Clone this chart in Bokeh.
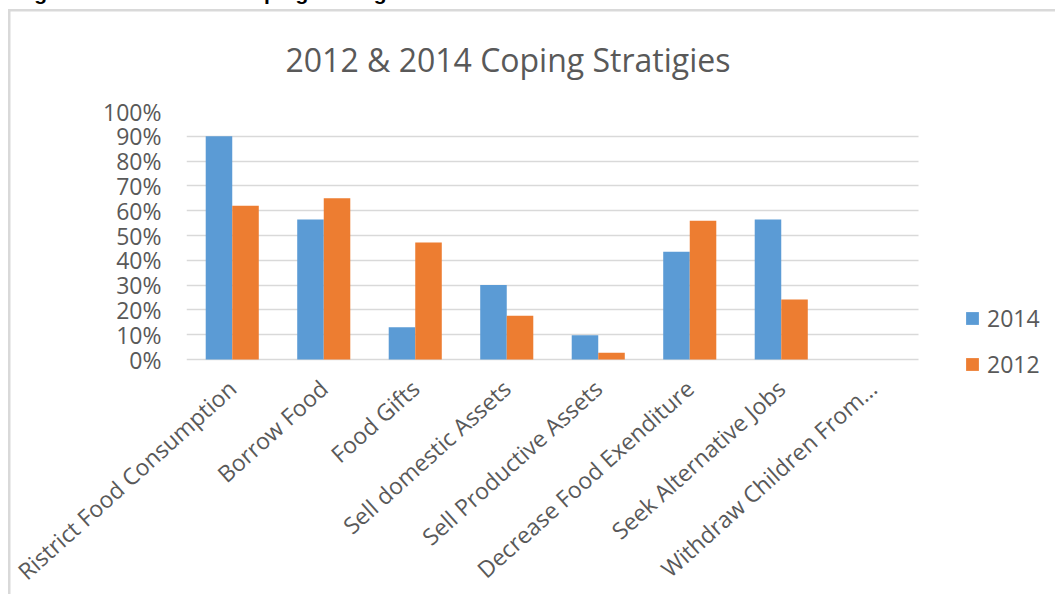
from bokeh.plotting import figure
from bokeh.models import (Range1d, ColumnDataSource, NumeralTickFormatter, FixedTicker,
                          SingleIntervalTicker, Legend, LegendItem, Title, GlobalInlineStyleSheet)
from bokeh.transform import dodge
from bokeh.embed import file_html
from bokeh.resources import INLINE

categories = ["Ristrict Food Consumption", "Borrow Food", "Food Gifts", "Sell domestic Assets",
              "Sell Productive Assets", "Decrease Food Exenditure", "Seek Alternative Jobs",
              "Withdraw Children From\u2026"]
values_2014 = [0.90, 0.565, 0.13, 0.30, 0.098, 0.434, 0.565, 0.0]
values_2012 = [0.62, 0.65, 0.472, 0.176, 0.027, 0.559, 0.242, 0.0]
series_names = ["2014", "2012"]
chart_title = "2012 & 2014 Coping Stratigies"
caption = "Figure 1: 2012 & 2014 Coping Strategies"

SHIFT = 23                      # canvas is shifted up so that the caption is cut at the top
W = 1055
FL = 186                        # frame left in canvas px
ZERO = 359 + SHIFT              # canvas y of the 0% line
CAT_W = 91.5                    # px per category
PX_PER_UNIT = 248.0             # px for 100%
EXTRA_BOTTOM = 20               # frame continues below 0% so the legend is not clipped
FB = ZERO + EXTRA_BOTTOM
BOTTOM_PANEL = 237              # room the rotated category labels ask for
H = FB + BOTTOM_PANEL

xs = list(range(len(categories)))
src = ColumnDataSource(dict(x=xs, v14=values_2014, v12=values_2012))

frame_css = {
    "margin-top": f"-{SHIFT}px",
    "background-color": "white",
    "background-image": "linear-gradient(#d9d9d9,#d9d9d9), linear-gradient(#d9d9d9,#d9d9d9)",
    "background-size": "2.5px 700px, 1100px 2.5px",
    "background-position": f"8px {9 + SHIFT}px, 8px {9 + SHIFT}px",
    "background-repeat": "no-repeat",
}

x_end = -0.5 + (W - FL) / CAT_W
y_start = -EXTRA_BOTTOM / PX_PER_UNIT

p = figure(x_range=Range1d(-0.5, x_end), y_range=Range1d(y_start, 1),
           width=W, height=H, output_backend="svg", toolbar_location=None,
           min_border_left=FL, min_border_right=0, min_border_top=0,
           min_border_bottom=BOTTOM_PANEL, outline_line_color=None,
           border_fill_alpha=0, background_fill_color="white", styles=frame_css,
           stylesheets=[GlobalInlineStyleSheet(css="html, body { overflow: hidden; margin: 0; }")])

# outermost title: the figure caption (cut at the top of the page)
p.title.text = caption
p.title.align = "left"
p.title.offset = 15 - FL
p.title.text_font = "Liberation Sans"
p.title.text_font_size = "21px"
p.title.text_font_style = "bold"
p.title.text_color = "#000000"
p.title.standoff = 3

p.add_layout(Title(text=chart_title, align="left", offset=99, text_font="Open Sans",
                   text_font_style="normal", text_font_size="32px", text_color="#595959",
                   standoff=61), "above")

r14 = p.vbar(x=dodge("x", -0.145), top="v14", width=0.29,
             source=src, fill_color="#5B9BD5", line_color=None)
r12 = p.vbar(x=dodge("x", 0.145), top="v12", width=0.29,
             source=src, fill_color="#ED7D31", line_color=None)

p.xgrid.grid_line_color = None
p.ygrid.grid_line_color = "#d9d9d9"
p.ygrid.grid_line_width = 1.3
p.ygrid.cross_bounds = (-0.5, len(categories) - 0.5)
p.yaxis.ticker = SingleIntervalTicker(interval=0.1)
p.yaxis.formatter = NumeralTickFormatter(format="0%")
p.yaxis.axis_line_color = None
p.yaxis.major_tick_line_color = None
p.yaxis.minor_tick_line_color = None
p.yaxis.major_label_text_font = "Open Sans"
p.yaxis.major_label_text_font_size = "23px"
p.yaxis.major_label_text_color = "#595959"
p.yaxis.major_label_standoff = 19

p.xaxis.ticker = FixedTicker(ticks=xs)
p.xaxis.major_label_overrides = {i: c for i, c in zip(xs, categories)}
p.xaxis.axis_line_color = None
p.xaxis.major_tick_line_color = None
p.xaxis.minor_tick_line_color = None
p.xaxis.major_label_orientation = 0.733
p.xaxis.major_label_text_font = "Open Sans"
p.xaxis.major_label_text_font_size = "23px"
p.xaxis.major_label_text_color = "#595959"
p.xaxis.major_label_standoff = 19 - EXTRA_BOTTOM

legend = Legend(items=[LegendItem(label=series_names[0], renderers=[r14]),
                       LegendItem(label=series_names[1], renderers=[r12])],
                location=(964 - FL, FB - (380 + SHIFT)), orientation="vertical",
                glyph_width=16, glyph_height=16, label_text_font="Open Sans",
                label_text_font_size="23px", label_text_color="#595959",
                label_standoff=7, spacing=14, padding=0, margin=0,
                border_line_color=None, background_fill_alpha=0)
p.add_layout(legend)

open("out.html", "w").write(file_html(p, INLINE))
